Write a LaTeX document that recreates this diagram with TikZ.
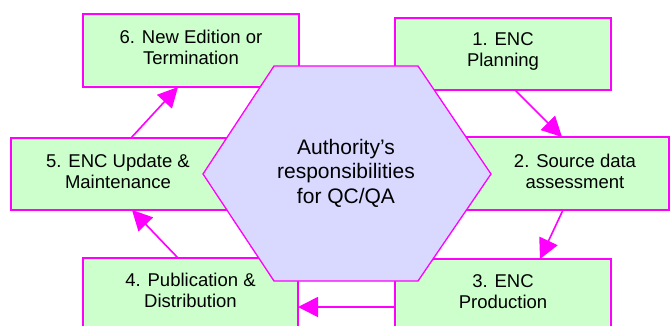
\documentclass[tikz,border=0pt]{standalone}
\usepackage{fontspec}
\setmainfont{Liberation Sans}
\usetikzlibrary{arrows.meta}
\definecolor{mag}{HTML}{FF00FF}
\definecolor{boxgreen}{HTML}{CCFFCC}
\definecolor{hexfill}{HTML}{D9D9FF}
\tikzset{
  stage/.style={draw=mag, line width=1.3pt, fill=boxgreen, inner sep=0pt, outer sep=0pt},
  stagetext/.style={align=center, inner sep=0pt, font=\fontsize{18.5pt}{21pt}\selectfont},
  hextext/.style={align=center, inner sep=0pt, font=\fontsize{21pt}{24.5pt}\selectfont},
  flow/.style={draw=mag, line width=1.6pt, -{Triangle[length=20pt,width=20pt]}, shorten >=0pt}
}
\begin{document}
\begin{tikzpicture}[x=1pt,y=-1pt]
\useasboundingbox (0,0) rectangle (670,326);
\clip (0,0) rectangle (670,326);
\fill[white] (0,0) rectangle (670,326);
% boxes
\node[stage, minimum width=216pt, minimum height=73pt] (b6) at (191,50.5) {};
\node[stage, minimum width=216pt, minimum height=72pt] (b1) at (503,54) {};
\node[stage, minimum width=202pt, minimum height=73pt] (b2) at (568,173.5) {};
\node[stage, minimum width=216pt, minimum height=72pt] (b5) at (119,174) {};
\node[stage, minimum width=215pt, minimum height=74pt] (b4) at (190.5,295) {};
\node[stage, minimum width=216pt, minimum height=74pt] (b3) at (503,296) {};
% hexagon
\draw[draw=mag, line width=1.3pt, fill=hexfill]
  (274,66) -- (418,66) -- (491,174) -- (418,281) -- (274,281) -- (203,174) -- cycle;
\node[hextext] (hx) at (346,173) {Authority’s\\responsibilities\\for QC/QA};
% texts
\node[stagetext] (t6) at (191,47) {6. New Edition or\\Termination};
\node[stagetext] (t1) at (503,51.5) {1. ENC\\Planning};
\node[stagetext] (t2) at (575,171) {2. Source data\\assessment};
\node[stagetext] (t5) at (118,171.5) {5. ENC Update \&\\Maintenance};
\node[stagetext] (t4) at (190.5,290) {4. Publication \&\\Distribution};
\node[stagetext] (t3) at (503,292) {3. ENC\\Production};
% arrows
\draw[flow] ([xshift=120pt]b1.south west) -- ([xshift=95pt]b2.north west);
\draw[flow] ([xshift=96pt]b2.south west) -- ([xshift=145pt]b3.north west);
\draw[flow] ([yshift=-48pt]b3.north west) -- ([yshift=-49pt]b4.north east);
\draw[flow] ([xshift=95pt]b4.north west) -- ([xshift=121pt]b5.south west);
\draw[flow] ([xshift=120pt]b5.north west) -- ([xshift=95pt]b6.south west);
\end{tikzpicture}
\end{document}
